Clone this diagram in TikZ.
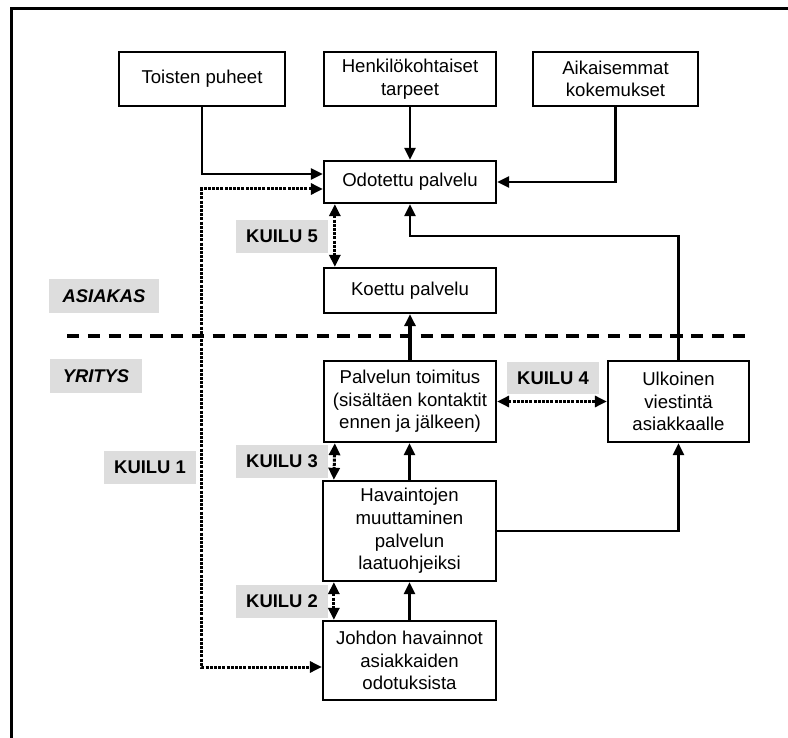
\documentclass[tikz,border=0pt]{standalone}
\usepackage{fontspec}
\setmainfont{Liberation Sans}
\usetikzlibrary{arrows.meta,calc}
\definecolor{labelgray}{RGB}{221,221,221}
\begin{document}
\begin{tikzpicture}[x=1pt,y=-1pt,
  every node/.style={font=\fontsize{18.6}{22.6}\selectfont},
  boxnode/.style={draw=black,line width=2.3pt,inner sep=0pt,align=center},
  gaplabel/.style={fill=labelgray,inner sep=0pt,minimum width=92pt,minimum height=33pt,
    font=\fontsize{18.4}{22.6}\selectfont\bfseries},
  sidelabel/.style={fill=labelgray,inner sep=0pt,minimum height=34pt,
    font=\fontsize{18.4}{22.6}\selectfont\bfseries\itshape},
  arr/.style={line width=2.3pt,-{Triangle[length=12pt,width=11pt]}},
  gaparr/.style={line width=3pt,dash pattern=on 3pt off 1.2pt,
    {Triangle[length=12pt,width=11pt]}-{Triangle[length=12pt,width=11pt]}},
]
\useasboundingbox (0,0) rectangle (788,738);

% frame (left and top edges)
\coordinate (fbl) at (11.5,740);
\coordinate (ftl) at (11.5,8.5);
\coordinate (ftr) at (790,8.5);
\draw[line width=3.2pt] (fbl) -- (ftl) -- (ftr);

% customer / company boundary
\coordinate (dl) at (67,336);
\coordinate (dr) at (752,336);
\draw[line width=4pt,dash pattern=on 12.3pt off 8.5pt] (dl) -- (dr);

% input boxes
\node[boxnode,minimum width=166pt,minimum height=54pt] (toisten) at (202,79) {Toisten puheet};
\node[boxnode,minimum width=172pt,minimum height=54pt] (henk) at (410,79) {Henkilökohtaiset\\tarpeet};
\node[boxnode,minimum width=165pt,minimum height=54pt] (aik) at (615.5,79) {Aikaisemmat\\kokemukset};

% customer side
\node[boxnode,minimum width=172pt,minimum height=42pt] (odot) at (410,182) {Odotettu palvelu};
\node[boxnode,minimum width=172pt,minimum height=45pt] (koettu) at (410,290.5) {Koettu palvelu};

% company side
\node[boxnode,minimum width=172pt,minimum height=81pt] (toim) at (410,401.5) {Palvelun toimitus\\(sisältäen kontaktit\\ennen ja jälkeen)};
\node[boxnode,minimum width=141pt,minimum height=81pt] (ulk) at (678.5,401.5) {Ulkoinen\\viestintä\\asiakkaalle};
\node[boxnode,minimum width=173pt,minimum height=100pt] (hav) at (409.5,531) {Havaintojen\\muuttaminen\\palvelun\\laatuohjeiksi};
\node[boxnode,minimum width=173pt,minimum height=79pt] (johdon) at (409.5,660.5) {Johdon havainnot\\asiakkaiden\\odotuksista};

% labels
\node[sidelabel,minimum width=110pt] (asiakas) at (104,296) {ASIAKAS};
\node[sidelabel,minimum width=92pt] (yritys) at (96,376) {YRITYS};
\node[gaplabel] (k5) at (282,236.5) {KUILU 5};
\node[gaplabel,minimum height=32pt] (k4) at (553,378) {KUILU 4};
\node[gaplabel] (k3) at (282,461.5) {KUILU 3};
\node[gaplabel] (k1) at (150,467.5) {KUILU 1};
\node[gaplabel] (k2) at (282,601.5) {KUILU 2};

% influences on expected service
\draw[arr] (toisten.south) |- ([yshift=8pt]odot.west);
\draw[arr] (henk.south) -- (odot.north);
\draw[arr] (aik.south) |- (odot.east);

% external communication back to expectations
\coordinate (ret) at (410,236);
\draw[arr] (ulk.north) -- (ulk.north |- ret) -- (ret) -- (odot.south);

% delivery chain
\draw[line width=3.2pt,-{Triangle[length=12pt,width=11pt]}] (toim.north) -- (koettu.south);
\draw[arr] (hav.north) -- (hav.north |- toim.south);
\draw[arr] (johdon.north) -- (johdon.north |- hav.south);
\draw[arr] (hav.east) -| (ulk.south);

% gaps
\coordinate (oin) at ([yshift=-7pt]odot.west);
\coordinate (jin) at ([yshift=-6.5pt]johdon.west);
\coordinate (k1line) at (201.5,400);
\draw[gaparr] (oin) -| (k1line) |- (jin);
\draw[gaparr] ([xshift=12pt]odot.south west) -- ([xshift=12pt]koettu.north west);
\draw[gaparr] (toim.east) -- (ulk.west);
\draw[gaparr] ([xshift=12pt]toim.south west) -- ([xshift=12pt]hav.north west);
\draw[gaparr] ([xshift=12pt]hav.south west) -- ([xshift=12pt]johdon.north west);
\end{tikzpicture}
\end{document}
